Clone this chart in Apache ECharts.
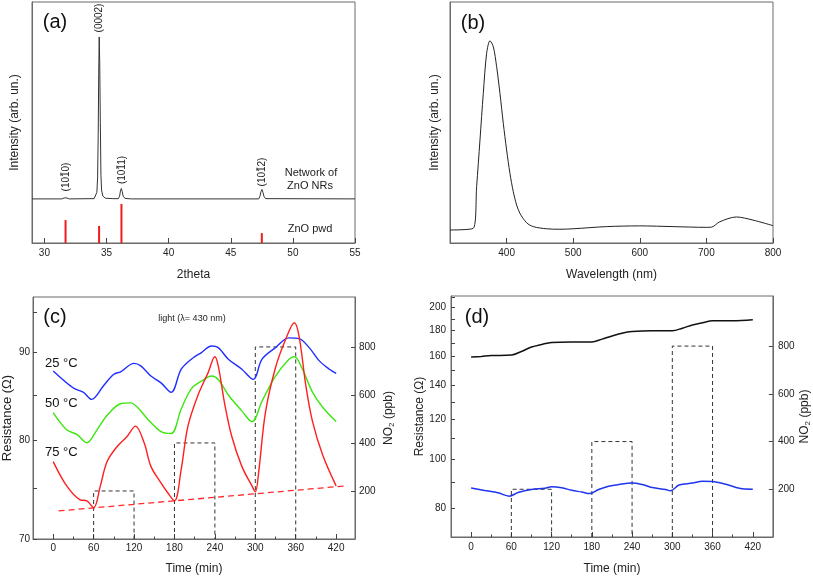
<!DOCTYPE html>
<html>
<head>
<meta charset="utf-8">
<script src="https://cdn.jsdelivr.net/npm/echarts@6/dist/echarts.min.js"></script>
<style>
html,body{margin:0;padding:0;background:#fff;}
#chart{width:813px;height:578px;}
</style>
</head>
<body>
<div id="chart"></div>
<script>
// ---------- Panel (a): XRD ----------
const xrdTheta = [29, 31.4, 31.6, 31.7, 31.8, 32.0, 34.0, 34.15, 34.22, 34.28, 34.33, 34.37, 34.41, 34.45, 34.5, 34.55, 34.6, 34.7, 34.9, 35.5, 35.95, 36.05, 36.12, 36.19, 36.26, 36.34, 36.48, 37, 47.25, 47.35, 47.43, 47.51, 47.59, 47.67, 47.8, 55];
const xrdIntensity = [18.3, 18.3, 18.7, 19.0, 18.7, 18.3, 18.4, 19.2, 21, 27, 45, 70, 85.5, 75, 50, 28, 22, 19.5, 18.6, 18.4, 18.4, 19.4, 21.6, 22.6, 21.4, 19.4, 18.5, 18.3, 18.3, 19.4, 21.3, 22.2, 21.0, 19.4, 18.4, 18.3];
const pwdTheta = [31.7, 34.4, 36.2, 47.5];
const pwdIntensity = [9.5, 7.1, 16.2, 4.1];
const xrdTicks = [30, 35, 40, 45, 50, 55];

// ---------- Panel (b): PL spectrum ----------
const plWavelength = [315, 350, 355, 360, 365, 370, 375, 380, 385, 390, 395, 400, 405, 410, 415, 420, 430, 440, 460, 480, 500, 550, 600, 650, 700, 708, 720, 745, 770, 800];
const plIntensity = [5.4, 6.1, 23.4, 42.7, 62.1, 78.7, 83.9, 81.5, 73.2, 62.1, 49.7, 38.6, 28.9, 21.3, 15.8, 12.3, 8.4, 6.8, 5.9, 5.7, 5.9, 6.8, 7.1, 6.8, 6.5, 6.6, 8.8, 10.8, 9.5, 7.2];
const plTicks = [400, 500, 600, 700, 800];

// ---------- Panel (c): light, 3 temperatures ----------
const c25Time = [0, 30, 45, 57, 75, 90, 100, 120, 130, 145, 160, 175, 190, 205, 220, 235, 245, 260, 280, 297, 310, 330, 350, 365, 380, 395, 410, 420];
const c25R = [87.8, 85.8, 85.3, 84.5, 86.1, 87.4, 87.7, 88.7, 88.4, 87.2, 86.4, 85.3, 88.0, 89.2, 90.0, 90.8, 90.6, 89.2, 88.0, 86.8, 89.2, 90.6, 91.8, 91.7, 90.6, 89.0, 88.0, 87.5];
const c50Time = [0, 20, 35, 50, 65, 80, 100, 115, 125, 140, 160, 175, 190, 205, 220, 235, 245, 260, 280, 295, 310, 330, 350, 358, 370, 385, 400, 420];
const c50R = [83.0, 81.1, 80.6, 79.7, 81.1, 82.7, 84.0, 84.1, 83.6, 82.3, 80.9, 80.7, 83.4, 85.7, 86.6, 87.2, 86.8, 85.0, 83.2, 82.0, 84.3, 87.2, 89.2, 89.5, 88.0, 85.3, 83.6, 82.0];
const c75Time = [0, 20, 40, 50, 60, 70, 80, 95, 110, 122, 135, 145, 160, 170, 180, 190, 200, 215, 230, 240, 245, 255, 265, 280, 295, 300, 305, 315, 330, 345, 358, 365, 375, 385, 400, 420];
const c75R = [77.7, 75.2, 73.8, 73.7, 73.0, 75.2, 77.7, 79.3, 80.4, 81.5, 79.7, 77.2, 75.5, 74.5, 73.7, 76.9, 81.5, 85.0, 87.6, 89.5, 88.4, 83.8, 80.4, 77.2, 75.2, 74.6, 76.6, 83.0, 88.2, 91.6, 93.7, 92.0, 86.1, 82.0, 78.4, 75.2];
const cTrendTime = [8, 435];
const cTrendR = [72.7, 75.2];
const cLeftLabels = [70, 80, 90];
const cLeftTicks = [70, 75, 80, 85, 90, 95];

// ---------- Panel (d): dark ----------
const dBlackTime = [0, 15, 30, 60, 75, 90, 105, 120, 150, 180, 195, 210, 225, 240, 270, 300, 315, 330, 345, 360, 390, 420];
const dBlackR = [159.5, 160, 160.6, 161, 163.7, 167, 169, 170.6, 171, 171, 173.2, 175.7, 178.0, 179.3, 180, 180, 182.1, 184.8, 186.7, 188.4, 188.4, 189.3];
const dBlueTime = [0, 20, 40, 57, 70, 90, 110, 120, 135, 150, 165, 177, 190, 205, 220, 240, 255, 270, 290, 297, 310, 330, 345, 360, 380, 400, 420];
const dBlueR = [87.6, 86.6, 85.7, 84.4, 85.8, 87.0, 87.5, 88.1, 87.7, 86.7, 86.0, 85.4, 87.0, 88.3, 89.0, 89.6, 89.0, 87.8, 87.0, 86.5, 88.8, 89.6, 90.4, 90.3, 89.1, 87.5, 87.1];
const dLeftLabels = [80, 100, 120, 140, 160, 180, 200];
const dLeftTicks = [80, 90, 100, 110, 120, 130, 140, 150, 160, 170, 180, 190, 200, 210];

// ---------- NO2 pulses (c, d) ----------
const pulseStart = [60, 180, 300];
const pulseEnd = [120, 240, 360];
const pulseConc = [200, 400, 800];
const timeTicks = [0, 60, 120, 180, 240, 300, 360, 420];
const timeMinorTicks = [30, 90, 150, 210, 270, 330, 390];
const no2Ticks = [200, 400, 600, 800];

// ---------- build ----------
const zip = (a, b) => a.map((v, i) => [v, b[i]]);
const zipLog = (a, b) => a.map((v, i) => [v, Math.log(b[i])]);
const FONT = 'Liberation Sans, Arial, sans-serif';
const TXT = '#222';
const AX = '#6a6a6a';

function xAx(grid, min, max, labels, name, gap, margin) {
  return {
    type: 'value', gridIndex: grid, min: min, max: max, position: 'bottom',
    name: name, nameLocation: 'middle', nameGap: gap,
    nameTextStyle: {fontFamily: FONT, fontSize: 12, color: TXT},
    axisLine: {show: true, onZero: false, lineStyle: {color: AX, width: 1}},
    axisTick: {show: true, inside: true, length: 5, customValues: labels, lineStyle: {color: '#444'}},
    axisLabel: {show: true, customValues: labels, margin: margin, fontFamily: FONT, fontSize: 10, color: TXT},
    splitLine: {show: false}
  };
}
function minorX(grid, min, max, vals) {
  return {
    type: 'value', gridIndex: grid, min: min, max: max, position: 'bottom',
    axisLine: {show: false, onZero: false},
    axisTick: {show: true, inside: true, length: 2.5, customValues: vals, lineStyle: {color: '#444'}},
    axisLabel: {show: false}, splitLine: {show: false}
  };
}
function logY(grid, min, max, labels, ticks, name, gap, margin, nameSize) {
  return {
    type: 'value', gridIndex: grid, position: 'left', min: Math.log(min), max: Math.log(max),
    name: name, nameLocation: 'middle', nameGap: gap, nameRotate: 90,
    nameTextStyle: {fontFamily: FONT, fontSize: nameSize, color: TXT},
    axisLine: {show: true, onZero: false, lineStyle: {color: AX}},
    axisTick: {show: true, inside: true, length: 4, customValues: ticks.map(Math.log), lineStyle: {color: '#444'}},
    axisLabel: {show: true, customValues: labels.map(Math.log), margin: margin, fontFamily: FONT, fontSize: 10, color: TXT,
      formatter: v => String(Math.round(Math.exp(v)))},
    splitLine: {show: false}
  };
}
function no2Y(grid, max, gap, margin) {
  return {
    type: 'value', gridIndex: grid, position: 'right', min: 0, max: max,
    name: '{a|NO}{s|2}{a| (ppb)}', nameLocation: 'middle', nameGap: gap, nameRotate: 90,
    nameTextStyle: {fontFamily: FONT, color: TXT, rich: {
      a: {fontFamily: FONT, fontSize: 12, color: TXT, lineHeight: 15, verticalAlign: 'middle'},
      s: {fontFamily: FONT, fontSize: 8, color: TXT, lineHeight: 8, verticalAlign: 'bottom'}
    }},
    axisLine: {show: true, onZero: false, lineStyle: {color: AX}},
    axisTick: {show: true, inside: true, length: 4, customValues: no2Ticks, lineStyle: {color: '#444'}},
    axisLabel: {show: true, customValues: no2Ticks, margin: margin, fontFamily: FONT, fontSize: 10, color: TXT},
    splitLine: {show: false}
  };
}
function intensityY(grid, gap) {
  return {
    type: 'value', gridIndex: grid, min: 0, max: 100, position: 'left',
    name: 'Intensity (arb. un.)', nameLocation: 'middle', nameGap: gap, nameRotate: 90,
    nameTextStyle: {fontFamily: FONT, fontSize: 12, color: TXT},
    axisLine: {show: true, onZero: false, lineStyle: {color: AX}},
    axisTick: {show: false}, axisLabel: {show: false}, splitLine: {show: false}
  };
}

function boxSeries(xi, yi) {
  return pulseStart.map((s, i) => ({
    type: 'line', xAxisIndex: xi, yAxisIndex: yi, symbol: 'none', silent: true,
    lineStyle: {color: '#333', width: 1, type: [4, 3]},
    data: [[s, 0], [s, pulseConc[i]], [pulseEnd[i], pulseConc[i]], [pulseEnd[i], 0]],
    z: 1
  }));
}
function curve(xi, yi, data, color, width, smooth) {
  return {type: 'line', xAxisIndex: xi, yAxisIndex: yi, symbol: 'none', smooth: smooth,
    lineStyle: {color: color, width: width}, data: data, z: 3};
}

// Miller index label "(10 1-bar d)" drawn rotated, bar over the third digit
function millerLabel(x, y, last) {
  const fs = 10, dw = 5.56, pw = 3.33;
  const total = 2 * pw + 4 * dw;
  const barStart = -total / 2 + pw + 2 * dw;
  return {
    type: 'group', x: x, y: y, rotation: Math.PI / 2,
    children: [
      {type: 'text', x: 0, y: 0, style: {text: '(101' + last + ')', font: fs + 'px ' + FONT, fill: TXT, align: 'center', verticalAlign: 'middle'}},
      {type: 'line', shape: {x1: barStart + 1.2, y1: -5.2, x2: barStart + dw - 1.2, y2: -5.2}, style: {stroke: TXT, lineWidth: 0.8}}
    ]
  };
}

const gridStyle = {show: true, borderColor: AX, borderWidth: 1, containLabel: false};

const option = {
  animation: false,
  backgroundColor: '#fff',
  grid: [
    Object.assign({left: 32, top: 2, width: 323, height: 241}, gridStyle),
    Object.assign({left: 450, top: 2, width: 323, height: 241}, gridStyle),
    Object.assign({left: 32, top: 297, width: 323, height: 242}, gridStyle),
    Object.assign({left: 451, top: 296, width: 322, height: 241}, gridStyle)
  ],
  xAxis: [
    xAx(0, 29, 55, xrdTicks, '2theta', 26, 5),
    xAx(1, 315, 800, plTicks, 'Wavelength (nm)', 26, 5),
    xAx(2, -30, 448, timeTicks, 'Time (min)', 24, 4),
    minorX(2, -30, 448, timeMinorTicks),
    xAx(3, -30, 450, timeTicks, 'Time (min)', 26, 5),
    minorX(3, -30, 450, timeMinorTicks)
  ],
  yAxis: [
    intensityY(0, 11),
    intensityY(1, 9),
    logY(2, 70, 97, cLeftLabels, cLeftTicks, 'Resistance (\u03A9)', 19, 3, 13),
    no2Y(2, 1008, 26, 4),
    logY(3, 70, 211, dLeftLabels, dLeftTicks, 'Resistance (\u03A9)', 25, 5, 12),
    no2Y(3, 1010, 24, 5)
  ],
  series: [
    curve(0, 0, zip(xrdTheta, xrdIntensity), '#333', 1, false),
    {type: 'bar', xAxisIndex: 0, yAxisIndex: 0, barWidth: 2, itemStyle: {color: '#ee1c1c'},
      data: zip(pwdTheta, pwdIntensity)},
    curve(1, 1, zip(plWavelength, plIntensity), '#222', 1, 0.3),
    ...boxSeries(2, 3),
    curve(2, 2, zipLog(c25Time, c25R), '#1f2dff', 1.4, 0.35),
    curve(2, 2, zipLog(c50Time, c50R), '#3de610', 1.4, 0.35),
    curve(2, 2, zipLog(c75Time, c75R), '#ff1f1f', 1.4, 0.35),
    {type: 'line', xAxisIndex: 2, yAxisIndex: 2, symbol: 'none',
      lineStyle: {color: '#ff2a2a', width: 1.3, type: [6, 4]}, data: zipLog(cTrendTime, cTrendR), z: 2},
    ...boxSeries(4, 5),
    curve(4, 4, zipLog(dBlackTime, dBlackR), '#111', 1.5, 0.35),
    curve(4, 4, zipLog(dBlueTime, dBlueR), '#2035ee', 1.5, 0.35)
  ],
  graphic: [
    {type: 'text', x: 55, y: 22, style: {text: '(a)', font: '20px ' + FONT, fill: '#111', align: 'center', verticalAlign: 'middle'}},
    {type: 'text', x: 473, y: 23, style: {text: '(b)', font: '20px ' + FONT, fill: '#111', align: 'center', verticalAlign: 'middle'}},
    {type: 'text', x: 55, y: 317, style: {text: '(c)', font: '20px ' + FONT, fill: '#111', align: 'center', verticalAlign: 'middle'}},
    {type: 'text', x: 477, y: 317, style: {text: '(d)', font: '20px ' + FONT, fill: '#111', align: 'center', verticalAlign: 'middle'}},
    {type: 'text', x: 99, y: 18, rotation: Math.PI / 2, style: {text: '(0002)', font: '10px ' + FONT, fill: TXT, align: 'center', verticalAlign: 'middle'}},
    millerLabel(66, 177, '0'),
    millerLabel(122, 170, '1'),
    millerLabel(262, 172, '2'),
    {type: 'text', x: 311, y: 173, style: {text: 'Network of', font: '11px ' + FONT, fill: TXT, align: 'center', verticalAlign: 'middle'}},
    {type: 'text', x: 310, y: 186, style: {text: 'ZnO NRs', font: '11px ' + FONT, fill: TXT, align: 'center', verticalAlign: 'middle'}},
    {type: 'text', x: 310, y: 229, style: {text: 'ZnO pwd', font: '11px ' + FONT, fill: TXT, align: 'center', verticalAlign: 'middle'}},
    {type: 'text', x: 192, y: 319, style: {text: 'light (\u03BB= 430 nm)', font: '9px ' + FONT, fill: TXT, align: 'center', verticalAlign: 'middle'}},
    {type: 'text', x: 45, y: 363, style: {text: '25 \u00B0C', font: '13px ' + FONT, fill: '#111', align: 'left', verticalAlign: 'middle'}},
    {type: 'text', x: 45, y: 403, style: {text: '50 \u00B0C', font: '13px ' + FONT, fill: '#111', align: 'left', verticalAlign: 'middle'}},
    {type: 'text', x: 45, y: 452, style: {text: '75 \u00B0C', font: '13px ' + FONT, fill: '#111', align: 'left', verticalAlign: 'middle'}}
  ]
};

const chart = echarts.init(document.getElementById('chart'), null, {renderer: 'canvas'});
chart.setOption(option);
</script>
</body>
</html>
